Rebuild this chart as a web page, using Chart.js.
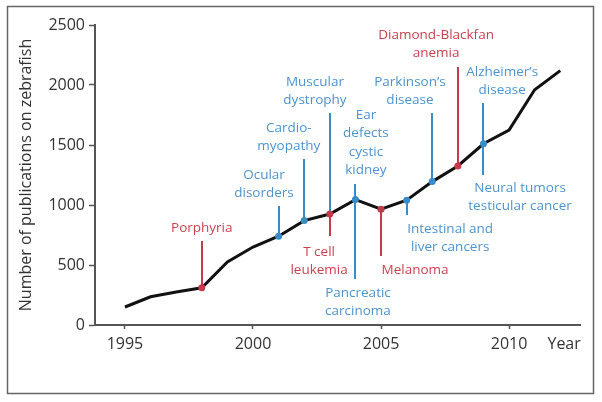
<!DOCTYPE html>
<html>
<head>
<meta charset="utf-8">
<script src="https://cdn.jsdelivr.net/npm/chart.js@4.4.1/dist/chart.umd.min.js"></script>
<style>
  html, body { margin: 0; padding: 0; background: #fff; }
  canvas { display: block; }
</style>
</head>
<body>
<canvas id="zfChart" width="602" height="402"></canvas>
<script>
// data
const years = [1995, 1996, 1997, 1998, 1999, 2000, 2001, 2002, 2003, 2004, 2005, 2006, 2007, 2008, 2009, 2010, 2011, 2012];
const publications = [150, 235, 275, 310, 525, 650, 740, 870, 925, 1045, 965, 1040, 1195, 1325, 1510, 1625, 1960, 2120];
const redYears = [1998, 2003, 2005, 2008];
const blueYears = [2001, 2002, 2004, 2006, 2007, 2009];
const xTicks = [1995, 2000, 2005, 2010];
const yTicks = [0, 500, 1000, 1500, 2000, 2500];

// disease annotations: stem lines (year, from value, to value) and text blocks
const stems = [
  { year: 1998, from: 700, to: 310, c: 'red' },
  { year: 2001, from: 992, to: 740, c: 'blue' },
  { year: 2002, from: 1383, to: 870, c: 'blue' },
  { year: 2003, from: 1767, to: 925, c: 'blue' },
  { year: 2003, from: 925, to: 742, c: 'red' },
  { year: 2004, from: 1175, to: 383, c: 'blue' },
  { year: 2005, from: 965, to: 575, c: 'red' },
  { year: 2006, from: 1040, to: 917, c: 'blue' },
  { year: 2007, from: 1767, to: 1195, c: 'blue' },
  { year: 2008, from: 2150, to: 1325, c: 'red' },
  { year: 2009, from: 1850, to: 1250, c: 'blue' }
];
const notes = [
  { text: ['Porphyria'], x: 1998.0, y: 808, c: 'red' },
  { text: ['Ocular', 'disorders'], x: 2000.43, y: 1250, c: 'blue' },
  { text: ['Cardio-', 'myopathy'], x: 2001.4, y: 1642, c: 'blue' },
  { text: ['Muscular', 'dystrophy'], x: 2002.42, y: 2025, c: 'blue' },
  { text: ['T cell', 'leukemia'], x: 2002.58, y: 608, c: 'red' },
  { text: ['Ear', 'defects', 'cystic', 'kidney'], x: 2004.41, y: 1750, c: 'blue' },
  { text: ['Pancreatic', 'carcinoma'], x: 2004.1, y: 267, c: 'blue' },
  { text: ['Melanoma'], x: 2006.33, y: 458, c: 'red' },
  { text: ['Intestinal and', 'liver cancers'], x: 2007.7, y: 800, c: 'blue' },
  { text: ['Parkinson\u2019s', 'disease'], x: 2006.13, y: 2025, c: 'blue' },
  { text: ['Diamond-Blackfan', 'anemia'], x: 2007.15, y: 2417, c: 'red' },
  { text: ['Alzheimer\u2019s', 'disease'], x: 2009.73, y: 2108, c: 'blue' },
  { text: ['Neural tumors', 'testicular cancer'], x: 2010.43, y: 1142, c: 'blue' }
];

const lineCol = { red: '#c23b4b', blue: '#3b8cc4' };
const textCol = { red: '#c9434f', blue: '#4d94cb' };
const FONT = "'Open Sans', 'DejaVu Sans', sans-serif";

const markColor = y => redYears.includes(y) ? lineCol.red : (blueYears.includes(y) ? lineCol.blue : 'transparent');

const annotations = {
  id: 'annotations',
  beforeDraw(chart) {
    const ctx = chart.ctx;
    ctx.save();
    ctx.fillStyle = '#fff';
    ctx.fillRect(0, 0, chart.width, chart.height);
    ctx.strokeStyle = '#666';
    ctx.lineWidth = 1.5;
    ctx.strokeRect(7.5, 6.5, 586, 387);
    ctx.restore();
  },
  beforeDatasetsDraw(chart) {
    const { ctx, scales: { x, y } } = chart;
    ctx.save();
    ctx.lineWidth = 2;
    stems.forEach(s => {
      const px = Math.round(x.getPixelForValue(s.year));
      ctx.strokeStyle = lineCol[s.c];
      ctx.beginPath();
      ctx.moveTo(px, y.getPixelForValue(s.from));
      ctx.lineTo(px, y.getPixelForValue(s.to));
      ctx.stroke();
    });
    ctx.font = '13.5px ' + FONT;
    ctx.textAlign = 'center';
    ctx.textBaseline = 'middle';
    notes.forEach(n => {
      const px = x.getPixelForValue(n.x);
      const py = y.getPixelForValue(n.y);
      ctx.fillStyle = textCol[n.c];
      n.text.forEach((t, i) => ctx.fillText(t, px, py + i * 18.5));
    });
    ctx.restore();
  }
};

new Chart(document.getElementById('zfChart').getContext('2d'), {
  type: 'line',
  data: {
    datasets: [{
      data: years.map((yr, i) => ({ x: yr, y: publications[i] })),
      borderColor: '#111',
      borderWidth: 3,
      tension: 0,
      pointRadius: ctx => markColor(years[ctx.dataIndex]) === 'transparent' ? 0 : 3.5,
      pointBackgroundColor: ctx => markColor(years[ctx.dataIndex]),
      pointBorderWidth: 0
    }]
  },
  options: {
    responsive: false,
    animation: false,
    events: [],
    layout: { padding: { left: 0, right: 22, top: 25, bottom: 0 } },
    plugins: { legend: { display: false }, tooltip: { enabled: false } },
    scales: {
      x: {
        type: 'linear',
        min: 1993.83,
        max: 2012.77,
        afterFit: s => { s.height = 77; },
        afterBuildTicks: s => { s.ticks = xTicks.concat([2012.15]).map(v => ({ value: v })); },
        grid: {
          display: true,
          drawOnChartArea: false,
          drawTicks: true,
          tickLength: 4,
          tickColor: ctx => (ctx.tick && ctx.tick.value > 2011) ? 'transparent' : '#555',
          tickWidth: 1.5
        },
        border: { display: true, color: '#555', width: 2 },
        ticks: {
          autoSkip: false,
          maxRotation: 0,
          padding: 6,
          color: '#333',
          font: { family: FONT, size: 16 },
          callback: v => v > 2011 ? 'Year' : String(v)
        }
      },
      y: {
        min: 0,
        max: 2500,
        afterFit: s => { s.width = 95; },
        afterBuildTicks: s => { s.ticks = yTicks.map(v => ({ value: v })); },
        grid: {
          display: true,
          drawOnChartArea: false,
          drawTicks: true,
          tickLength: 6,
          tickColor: '#555',
          tickWidth: 1.5
        },
        border: { display: true, color: '#555', width: 2 },
        ticks: {
          padding: 4,
          color: '#333',
          font: { family: FONT, size: 16 },
          callback: v => String(v)
        },
        title: {
          display: true,
          text: 'Number of publications on zebrafish',
          color: '#333',
          font: { family: FONT, size: 16 },
          padding: { top: 17, bottom: 0 }
        }
      }
    }
  },
  plugins: [annotations]
});
</script>
</body>
</html>
